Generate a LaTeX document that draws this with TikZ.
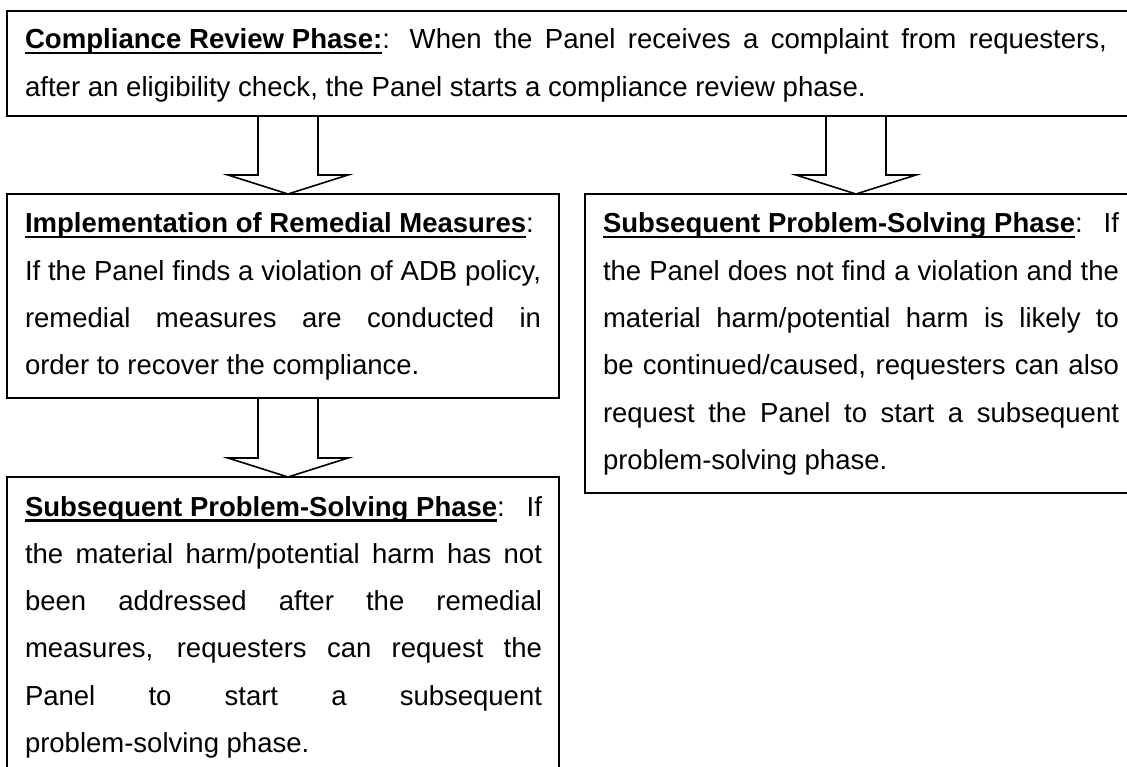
\documentclass[tikz,border=0pt]{standalone}
\usepackage{fontspec}
\setmainfont{Liberation Sans}
\usetikzlibrary{calc}
\newcommand\myul[1]{\setbox0=\hbox{#1}\rlap{\rule[-5.5pt]{\wd0}{2.2pt}}\box0}
\newcommand\jl[1]{\makebox[\linewidth][s]{#1}\par}
\newcommand\lastl[1]{\makebox[\linewidth][l]{#1}\par}
\newcommand\blockarrow[2]{\draw[blk] let \p1=(#1), \p2=(#2) in
  (\x1-30pt,\y1) -- (\x1-30pt,\y2+19pt) -- (\x1-60pt,\y2+19pt) -- (\x2,\y2)
  -- (\x1+60pt,\y2+19pt) -- (\x1+30pt,\y2+19pt) -- (\x1+30pt,\y1);}
\begin{document}
\begin{tikzpicture}[x=1pt,y=-1pt,
  box/.style={draw=black, line width=1.6pt, rectangle, inner sep=0pt, outer sep=0pt, anchor=north west},
  txt/.style={inner sep=0pt, outer sep=0pt, anchor=base west},
  blk/.style={draw=black, line width=1.6pt, line join=miter}]
\useasboundingbox (0,0) rectangle (1127,767);

\node[box, minimum width=1123pt, minimum height=105pt] (top) at (7,11) {};
\node[box, minimum width=552pt, minimum height=204pt] (impl) at (7,194) {};
\node[box, minimum width=552pt, minimum height=300pt] (sub1) at (7,477) {};
\node[box, minimum width=545pt, minimum height=299pt] (sub2) at (585,194) {};

\node[txt] (topT) at (25,49) {\parbox[t]{1082pt}{\fontsize{27.6pt}{48pt}\selectfont
\jl{\myul{\textbf{Compliance Review Phase:}}: When the Panel receives a complaint from requesters,}
\lastl{after an eligibility check, the Panel starts a compliance review phase.}}};

\node[txt] (implT) at (25,233) {\parbox[t]{516pt}{\fontsize{27.5pt}{47.3pt}\selectfont
\jl{\myul{\textbf{Implementation of Remedial Measures}}:}
\jl{If the Panel finds a violation of ADB policy,}
\jl{remedial measures are conducted in}
\lastl{order to recover the compliance.}}};

\node[txt] (sub1T) at (25,516) {\parbox[t]{517pt}{\fontsize{27.5pt}{47.3pt}\selectfont
\jl{\myul{\textbf{Subsequent Problem-Solving Phase}}: If}
\jl{the material harm/potential harm has not}
\jl{been addressed after the remedial}
\jl{measures, requesters can request the}
\jl{Panel to start a subsequent}
\lastl{problem-solving phase.}}};

\node[txt] (sub2T) at (603,233) {\parbox[t]{516pt}{\fontsize{27.5pt}{47.3pt}\selectfont
\jl{\myul{\textbf{Subsequent Problem-Solving Phase}}: If}
\jl{the Panel does not find a violation and the}
\jl{material harm/potential harm is likely to}
\jl{be continued/caused, requesters can also}
\jl{request the Panel to start a subsequent}
\lastl{problem-solving phase.}}};

\coordinate (c1) at (288,0);
\coordinate (c2) at (856,0);
\blockarrow{top.south -| c1}{impl.north -| c1}
\blockarrow{impl.south -| c1}{sub1.north -| c1}
\blockarrow{top.south -| c2}{sub2.north -| c2}
\end{tikzpicture}
\end{document}
